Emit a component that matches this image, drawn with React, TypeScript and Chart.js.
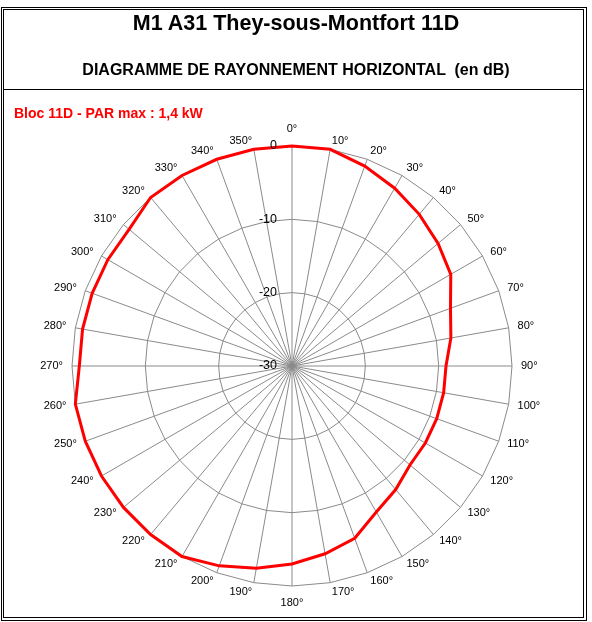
import { useEffect, useRef } from 'react';
import Chart from 'chart.js/auto';

const chartTitle = 'M1 A31 They-sous-Montfort 11D';
const chartSubtitle = 'DIAGRAMME DE RAYONNEMENT HORIZONTAL  (en dB)';
const seriesName = 'Bloc 11D - PAR max : 1,4 kW';

// azimuths, every 10 degrees
const angles = [
  '0°', '10°', '20°', '30°', '40°', '50°', '60°', '70°', '80°',
  '90°', '100°', '110°', '120°', '130°', '140°', '150°', '160°', '170°',
  '180°', '190°', '200°', '210°', '220°', '230°', '240°', '250°', '260°',
  '270°', '280°', '290°', '300°', '310°', '320°', '330°', '340°', '350°',
];

// attenuation in dB for each azimuth
const attenuation = [
  0, 0, -1, -2, -3, -4, -5, -7, -8,
  -9, -9, -9, -9, -9, -8, -7, -5, -4,
  -3, -2, -1, 0, 0, 0, 0, 0, 0,
  -1, -1, -1, -1, -1, 0, 0, 0, 0,
];

const scaleMin = -30;
const scaleMax = 0;
const scaleStep = 10;

const labelFont = '"Liberation Sans", Arial, sans-serif';

// dB values just left of the 0° spoke, and azimuth labels centred like Excel does
const radarLabels = {
  id: 'radarLabels',
  afterDatasetsDraw(chart) {
    const scale = chart.scales.r;
    const ctx = chart.ctx;
    ctx.save();
    ctx.fillStyle = '#000';

    ctx.font = '12.5px ' + labelFont;
    ctx.textAlign = 'right';
    ctx.textBaseline = 'middle';
    scale.ticks.forEach((t) => {
      const d = scale.getDistanceFromCenterForValue(t.value);
      ctx.fillText(String(t.value), scale.xCenter - 15, scale.yCenter - d);
    });

    ctx.font = '11px ' + labelFont;
    chart.data.labels.forEach((label, i) => {
      const p = scale.getPointPosition(i, scale.drawingArea + 9);
      let deg = Math.round((p.angle * 180) / Math.PI + 90) % 360;
      if (deg < 0) deg += 360;
      let y = p.y;
      if (deg === 0) y -= 8;
      if (deg === 180) y += 8;
      ctx.textAlign = deg === 0 || deg === 180 ? 'center' : deg < 180 ? 'left' : 'right';
      ctx.fillText(label, p.x, y);
    });
    ctx.restore();
  },
};

const RadiationChart = () => {
  const chartRef = useRef(null);

  useEffect(() => {
    const ctx = chartRef.current.getContext('2d');
    const chartInstance = new Chart(ctx, {
      type: 'radar',
      data: {
        labels: angles,
        datasets: [
          {
            label: seriesName,
            data: attenuation,
            borderColor: '#ff0000',
            borderWidth: 3,
            pointRadius: 0,
            fill: false,
            tension: 0,
          },
        ],
      },
      options: {
        animation: false,
        responsive: true,
        maintainAspectRatio: false,
        layout: { padding: { top: 36, bottom: 36 } },
        plugins: {
          legend: { display: false },
          tooltip: { enabled: false },
        },
        scales: {
          r: {
            min: scaleMin,
            max: scaleMax,
            ticks: { stepSize: scaleStep, display: false },
            grid: { color: '#8a8a8a', lineWidth: 1 },
            angleLines: { color: '#8a8a8a', lineWidth: 1 },
            pointLabels: { display: false },
          },
        },
      },
      plugins: [radarLabels],
    });

    return () => {
      chartInstance.destroy();
    };
  }, []);

  return <canvas ref={chartRef} />;
};

export default function App() {
  return (
    <div style={{ position: 'absolute', left: 0, top: 0, width: 592, height: 622, background: '#fff', fontFamily: labelFont }}>
      <div style={{ position: 'absolute', left: 4, top: 110, width: 576, height: 512 }}>
        <RadiationChart />
      </div>
      <div style={{ position: 'absolute', left: 1, top: 7, width: 586, height: 614, border: '1px solid #000', boxSizing: 'border-box' }} />
      <div style={{ position: 'absolute', left: 3, top: 9, width: 581, height: 609, border: '1px solid #000', boxSizing: 'border-box' }} />
      <div style={{ position: 'absolute', left: 3, top: 89, width: 581, height: 1, background: '#000' }} />
      <div style={{ position: 'absolute', left: 0, top: 13, width: 592, textAlign: 'center', fontSize: 21.5, lineHeight: '21px', fontWeight: 'bold' }}>
        {chartTitle}
      </div>
      <div style={{ position: 'absolute', left: 0, top: 62, width: 592, textAlign: 'center', fontSize: 16, lineHeight: '16px', fontWeight: 'bold', whiteSpace: 'pre' }}>
        {chartSubtitle}
      </div>
      <div style={{ position: 'absolute', left: 14, top: 106, fontSize: 14, lineHeight: '14px', fontWeight: 'bold', color: '#ff0000' }}>
        {seriesName}
      </div>
    </div>
  );
}
